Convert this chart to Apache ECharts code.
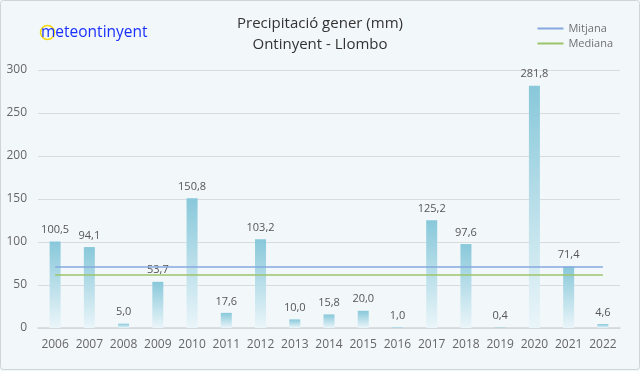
<!DOCTYPE html>
<html><head><meta charset="utf-8">
<script src="https://cdn.jsdelivr.net/npm/echarts@6/dist/echarts.min.js"></script>
<style>html,body{margin:0;padding:0;background:#f2f7fa}#c{width:640px;height:371px}</style>
</head><body><div id="c"></div>
<script>
const years = ['2006','2007','2008','2009','2010','2011','2012','2013','2014','2015','2016','2017','2018','2019','2020','2021','2022'];
const precip = [100.5,94.1,5.0,53.7,150.8,17.6,103.2,10.0,15.8,20.0,1.0,125.2,97.6,0.4,281.8,71.4,4.6];
const mitjana = 71.5;
const mediana = 62.5;
const yTicks = [0,50,100,150,200,250,300];

const fmt = v => v.toFixed(1).replace('.', ',');
const chart = echarts.init(document.getElementById('c'));
chart.setOption({
  backgroundColor: '#f2f7fa',
  animation: false,
  textStyle: {fontFamily: 'Open Sans'},
  title: {
    text: 'Precipitació gener (mm)\nOntinyent - Llombo',
    left: 'center', top: 8,
    textStyle: {fontSize: 15, fontWeight: 'normal', color: '#333', lineHeight: 21, fontFamily: 'Open Sans'}
  },
  legend: {
    orient: 'vertical', right: 22, top: 18, itemWidth: 26, itemHeight: 2, itemGap: 4,
    icon: 'rect',
    textStyle: {fontSize: 11, color: '#707070'},
    data: ['Mitjana', 'Mediana']
  },
  graphic: [
    {type: 'rect', shape: {x: 0.5, y: 0.5, width: 639, height: 369, r: 3}, style: {fill: 'none', stroke: '#cfd4d8', lineWidth: 1}, z: 100},
    {type: 'circle', x: 47.5, y: 32.5, shape: {cx: 0, cy: 0, r: 7}, style: {fill: 'none', stroke: '#f5d90a', lineWidth: 1.5}, z: 50},
    {type: 'text', x: 41, y: 32.5, style: {text: 'meteontinyent', fill: '#1a30ff', font: '15.5px "Open Sans"', verticalAlign: 'middle', align: 'left'}, z: 51}
  ],
  grid: {left: 38, right: 20, top: 70, bottom: 43},
  xAxis: {
    type: 'category', data: years,
    axisLine: {lineStyle: {color: '#d3d6d8', width: 1.5}},
    axisTick: {show: false},
    axisLabel: {color: '#666', fontSize: 12, margin: 11, interval: 0}
  },
  yAxis: {
    type: 'value', min: 0, max: 300, interval: 50,
    axisLabel: {color: '#666', fontSize: 12, margin: 11, align: 'right'},
    splitLine: {lineStyle: {color: '#d9dcde', width: 1.2}},
    axisLine: {show: false}, axisTick: {show: false}
  },
  series: [
    {
      type: 'bar', data: precip, barWidth: 11,
      itemStyle: {color: new echarts.graphic.LinearGradient(0, 0, 0, 1, [
        {offset: 0, color: '#88c8da'}, {offset: 1, color: '#eaf5f9'}])},
      label: {show: true, position: 'top', distance: 6, color: '#555', fontSize: 11, formatter: p => fmt(p.value)},
      z: 2
    },
    {
      name: 'Mitjana', type: 'line', data: [], itemStyle: {color: '#86a9df'}, lineStyle: {color: '#86a9df'},
      markLine: {symbol: 'none', silent: true, label: {show: false},
        lineStyle: {color: '#86a9df', width: 1.5, type: 'solid'},
        data: [[{coord: [years[0], mitjana]}, {coord: [years[years.length-1], mitjana]}]]},
      z: 5
    },
    {
      name: 'Mediana', type: 'line', data: [], itemStyle: {color: '#9cc46a'}, lineStyle: {color: '#9cc46a'},
      markLine: {symbol: 'none', silent: true, label: {show: false},
        lineStyle: {color: '#9cc46a', width: 1.5, type: 'solid'},
        data: [[{coord: [years[0], mediana]}, {coord: [years[years.length-1], mediana]}]]},
      z: 5
    }
  ]
});
</script></body></html>
